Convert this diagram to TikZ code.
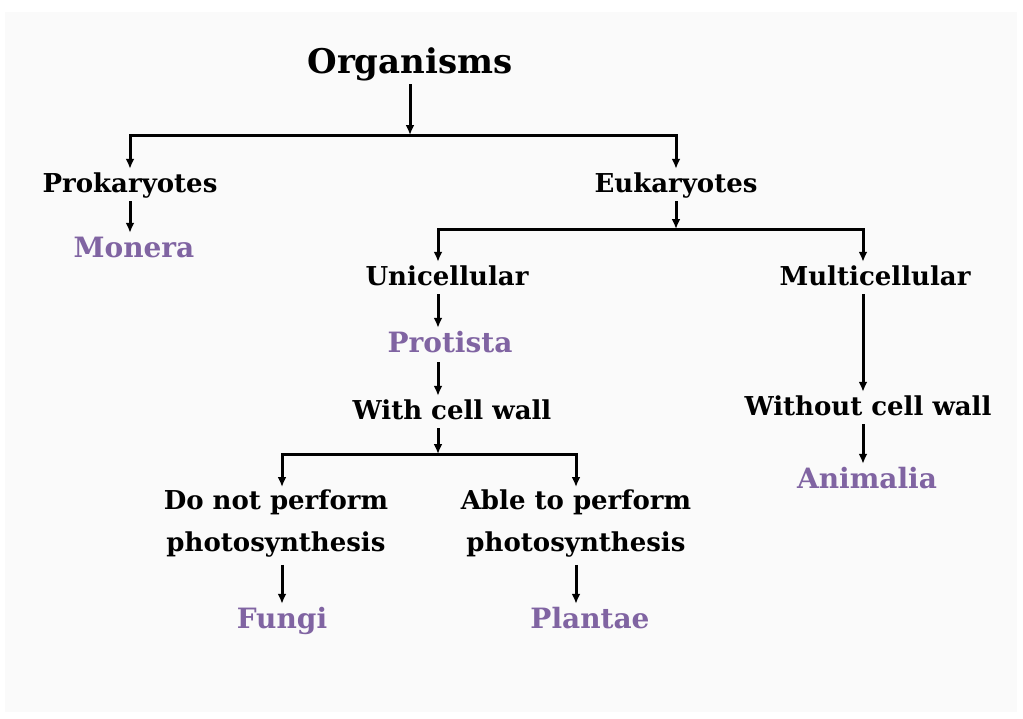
\documentclass[tikz,border=0pt]{standalone}
\usepackage{fontspec}
\setmainfont{DejaVu Serif}
\usetikzlibrary{arrows.meta}

\definecolor{kingdom}{RGB}{128,100,162}
\definecolor{paper}{RGB}{250,250,250}

\tikzset{
	group/.style={font=\bfseries\fontsize{26}{40}\selectfont, text height=20pt, text depth=6pt, inner sep=3pt, anchor=base},
	twoline/.style={font=\bfseries\fontsize{26}{42}\selectfont, align=center, inner sep=3pt, anchor=north},
	taxon/.style={font=\bfseries\fontsize{28}{34}\selectfont, text=kingdom, text height=21pt, text depth=7pt, inner sep=3pt, anchor=base},
	arr/.style={line width=3pt, -{Latex[length=10pt,width=9pt]}},
}

\begin{document}
\begin{tikzpicture}[x=1pt, y=-1pt]
		
		\useasboundingbox (0,0) rectangle (1023,718);
		\fill[paper] (5,12) rectangle (1017,712);
		
		% --- top ---
		\node[group, font=\bfseries\fontsize{34}{40}\selectfont, text height=26pt, text depth=8pt] (org) at (410,73) {Organisms};
		\coordinate (j0) at (410,135);
		\draw[arr] (org) -- (j0);
		
		% --- Prokaryotes / Eukaryotes ---
		\node[group] (pro) at (130,192) {Prokaryotes};
		\node[group] (euk) at (676,192) {Eukaryotes};
		\node[taxon] (mon) at (134,257) {Monera};
		\draw[arr] (j0) -| (pro);
		\draw[arr] (j0) -| (euk);
		\draw[arr] (pro) -- (pro |- mon.north);
		
		% --- Unicellular / Multicellular ---
		\coordinate (colU) at (438,0);
		\coordinate (colM) at (863,0);
		\coordinate (j1) at (676,229);
		\node[group] (uni) at (447,285) {Unicellular};
		\node[group] (mul) at (875,285) {Multicellular};
		\draw[arr] (euk) -- (j1);
		\draw[arr] (j1) -| (uni.north -| colU);
		\draw[arr] (j1) -| (mul.north -| colM);
		
		% --- Protista column ---
		\node[taxon] (prot) at (450,352) {Protista};
		\node[group] (wcw) at (452,419) {With cell wall};
		\draw[arr] (uni.south -| colU) -- (prot.north -| colU);
		\draw[arr] (prot.south -| colU) -- (wcw.north -| colU);
		
		% --- Animalia column ---
		\node[group] (wocw) at (868,415) {Without cell wall};
		\node[taxon] (ani) at (867,488) {Animalia};
		\draw[arr] (mul.south -| colM) -- (wocw.north -| colM);
		\draw[arr] (wocw.south -| colM) -- (ani.north -| colM);
		
		% --- Fungi / Plantae ---
		\coordinate (j2) at (438,454);
		\node[twoline] (dnp) at (276,487) {Do not perform\\photosynthesis};
		\node[twoline] (atp) at (576,487) {Able to perform\\photosynthesis};
		\node[taxon] (fun) at (282,628) {Fungi};
		\node[taxon] (pla) at (590,628) {Plantae};
		\draw[arr] (wcw.south -| colU) -- (j2);
		\draw[arr] (j2) -| (dnp.north -| fun.north);
		\draw[arr] (j2) -| (atp);
		\draw[arr, shorten <=4pt] (dnp.south -| fun.north) -- (fun);
		\draw[arr, shorten <=4pt] (atp.south) -- (atp.south |- pla.north);
		
	\end{tikzpicture}
\end{document}
